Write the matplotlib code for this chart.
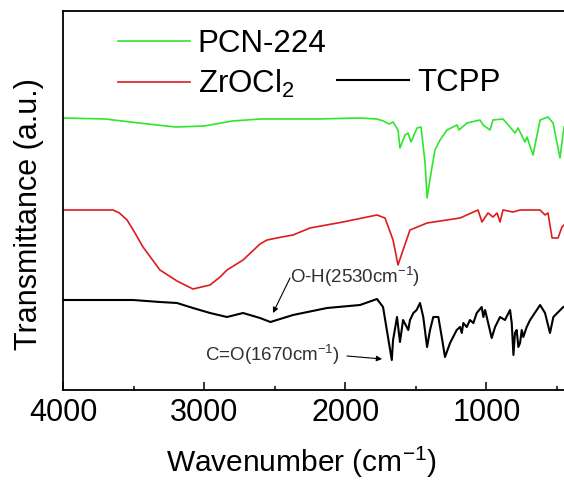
import matplotlib
matplotlib.use("Agg")
import matplotlib.pyplot as plt
from matplotlib.lines import Line2D
from matplotlib.ticker import MultipleLocator

plt.rcParams['font.family'] = ['Liberation Sans', 'DejaVu Sans']
plt.rcParams['mathtext.fontset'] = 'custom'
plt.rcParams['mathtext.rm'] = 'Liberation Sans'
plt.rcParams['mathtext.it'] = 'Liberation Sans'

# FTIR spectra, stacked with offsets (arbitrary transmittance units)
wn_pcn = [4000, 3700, 3400, 3200, 3000, 2800, 2600, 2200, 1900, 1775, 1730, 1690,
          1661, 1626, 1612, 1576, 1555, 1534, 1491, 1463, 1434, 1420, 1392, 1364,
          1328, 1279, 1208, 1194, 1137, 1045, 1023, 974, 953, 882, 832, 797, 775,
          726, 712, 669, 619, 563, 527, 478, 450]
t_pcn = [272, 271, 266, 263, 264, 269, 271, 271, 272, 271, 269, 266,
         268, 260, 242, 255, 257, 248, 262, 263, 227, 192, 217, 240,
         250, 260, 265, 260, 267, 270, 265, 260, 270, 271, 263, 257, 262,
         248, 253, 235, 270, 273, 267, 232, 263]

wn_zr = [4000, 3800, 3646, 3600, 3546, 3490, 3433, 3313, 3192, 3079, 2958, 2887,
         2838, 2724, 2604, 2554, 2450, 2370, 2250, 2016, 1775, 1718, 1661, 1626,
         1590, 1541, 1420, 1186, 1059, 1031, 988, 953, 924, 903, 882, 811, 761,
         619, 584, 563, 534, 492, 464, 450]
t_zr = [180, 180, 180, 177, 170, 157, 143, 120, 109, 101, 105, 113,
        120, 130, 146, 150, 153, 155, 162, 168, 175, 172, 150, 125,
        140, 160, 167, 172, 180, 168, 177, 173, 177, 168, 180, 178, 180,
        180, 175, 177, 152, 152, 163, 165]

wn_tcpp = [4000, 3700, 3504, 3313, 3192, 3079, 2958, 2838, 2724, 2604, 2530, 2370,
           2129, 1895, 1775, 1732, 1697, 1670, 1661, 1633, 1612, 1590, 1553, 1541,
           1517, 1494, 1470, 1447, 1420, 1399, 1376, 1340, 1316, 1293, 1257, 1210,
           1186, 1174, 1163, 1139, 1116, 1092, 1068, 1033, 1021, 1009, 997, 962,
           938, 903, 868, 832, 820, 808, 797, 785, 773, 761, 749, 738, 714, 690,
           619, 584, 549, 525, 490, 455]
t_tcpp = [90, 90, 90, 88, 87, 82, 77, 73, 77, 72, 68, 75,
          82, 85, 91, 83, 53, 30, 50, 73, 48, 70, 60, 70,
          77, 80, 87, 73, 43, 60, 73, 73, 53, 33, 47, 60,
          63, 57, 67, 63, 70, 67, 77, 83, 73, 80, 73, 52,
          63, 73, 70, 80, 67, 35, 57, 60, 43, 47, 60, 53, 63, 70,
          85, 77, 57, 73, 78, 83]

fig = plt.figure(figsize=(5.64, 4.8), dpi=100)
ax = fig.add_axes([63 / 564, 90 / 480, 508 / 564, 379 / 480])

l1, = ax.plot(wn_pcn, t_pcn, color='#2ee62e', lw=1.2)
l2, = ax.plot(wn_zr, t_zr, color='#dd1c1c', lw=1.2)
l3, = ax.plot(wn_tcpp, t_tcpp, color='black', lw=1.5)

ax.set_xlim(4000, 400)
ax.set_ylim(0, 379)
ax.set_yticks([])
ax.xaxis.set_major_locator(MultipleLocator(1000))
ax.xaxis.set_minor_locator(MultipleLocator(500))
ax.tick_params(axis='x', which='major', direction='in', length=6, width=1.1,
               labelsize=22, pad=6)
ax.tick_params(axis='x', which='minor', direction='in', length=3, width=1.1)
ax.spines['right'].set_visible(False)
for s in ['left', 'top', 'bottom']:
    ax.spines[s].set_linewidth(1.3)

ax.set_xlabel(r'Wavenumber (cm$^{-1}$)', fontsize=21.5)
ax.set_ylabel('Transmittance (a.u.)', fontsize=22)
ax.xaxis.set_label_coords(0.47, -0.145)
ax.yaxis.set_label_coords(-0.037, 0.465)

blank = Line2D([], [], color='none')
ax.legend([l1, l2, blank, l3], ['PCN-224', r'ZrOCl$_2$', '', 'TCPP'],
          ncol=2, frameon=False, fontsize=22.5, loc='upper left',
          bbox_to_anchor=(0.108, 0.952), borderpad=0, borderaxespad=0,
          handlelength=2.3, handletextpad=0.25, columnspacing=0.35,
          labelspacing=0.28)

# band assignments
ax.text(2391, 113, r'O-H(2530cm$^{-1}$)', fontsize=13.5, color='#303030',
        ha='left', va='center')
ax.annotate('', xy=(2512, 77), xytext=(2391, 112),
            arrowprops=dict(arrowstyle='-|>', color='black', lw=0.8,
                            mutation_scale=8, shrinkA=0, shrinkB=0))
ax.text(2994, 35, r'C=O(1670cm$^{-1}$)', fontsize=13.5, color='#303030',
        ha='left', va='center')
ax.annotate('', xy=(1739, 31), xytext=(1987, 34),
            arrowprops=dict(arrowstyle='-|>', color='black', lw=0.8,
                            mutation_scale=8, shrinkA=0, shrinkB=0))

fig.savefig('out.png', dpi=100)
